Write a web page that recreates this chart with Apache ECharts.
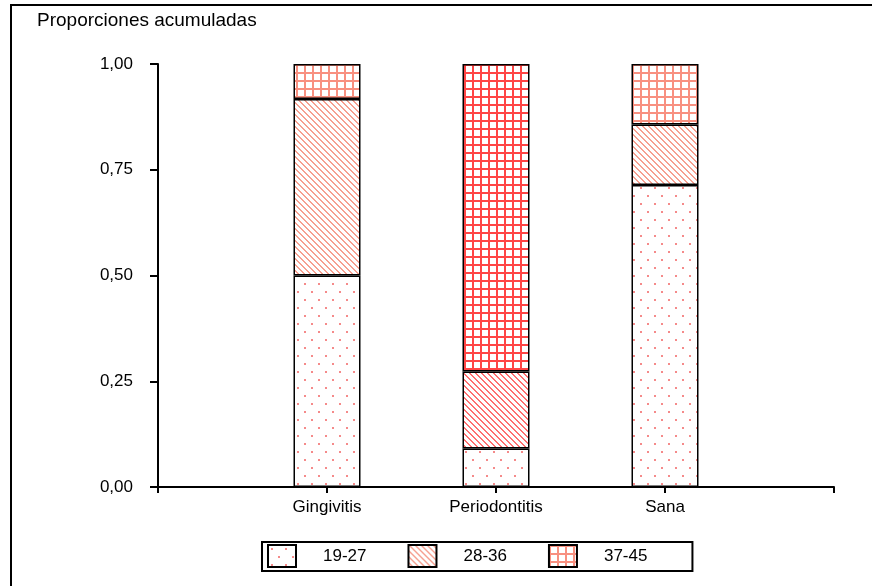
<!DOCTYPE html>
<html>
<head>
<meta charset="utf-8">
<script src="https://cdn.jsdelivr.net/npm/echarts@6/dist/echarts.min.js"></script>
<style>html,body{margin:0;padding:0;background:#fff}#c{width:872px;height:586px}</style>
</head>
<body>
<div id="c"></div>
<script>
const categories = ['', 'Gingivitis', 'Periodontitis', 'Sana', ''];
const seriesNames = ['19-27', '28-36', '37-45'];
const v1927 = ['-', 0.500, 0.091, 0.714, '-'];
const v2836 = ['-', 0.417, 0.182, 0.143, '-'];
const v3745 = ['-', 0.083, 0.727, 0.143, '-'];

function tile(w, h, draw) {
  const c = document.createElement('canvas');
  c.width = w; c.height = h;
  const g = c.getContext('2d');
  g.fillStyle = '#fff'; g.fillRect(0, 0, w, h);
  draw(g);
  return { image: c, repeat: 'repeat' };
}
function dots(col) {
  return tile(14, 16, g => { g.fillStyle = col; g.fillRect(3, 3, 2, 2); g.fillRect(10, 11, 2, 2); });
}
function stripes(col) {
  return tile(6, 6, g => {
    g.fillStyle = col;
    for (let i = 0; i < 6; i++) { g.fillRect(i, i, 2, 1); g.fillRect(i - 6, i, 2, 1); }
  });
}
function grid(col) {
  return tile(8, 8, g => { g.fillStyle = col; g.fillRect(0, 0, 8, 2); g.fillRect(0, 0, 2, 8); });
}
const cDot = dots('#f58a8a');
const cStrL = stripes('#f6a090');
const cStrD = stripes('#ff7070');
const cGrL = grid('#f89080');
const cGrD = grid('#ff4545');

function mk(vals, pats) {
  return vals.map((v, i) => v === '-' ? '-' : { value: v, itemStyle: { color: pats[i] } });
}

const FONT = '"Liberation Sans", Arial, sans-serif';
const border = { borderColor: '#000', borderWidth: 1.5 };
const chart = echarts.init(document.getElementById('c'), null, { renderer: 'canvas' });
chart.setOption({
  animation: false,
  backgroundColor: '#fff',
  textStyle: { fontFamily: FONT },
  graphic: [
    { type: 'rect', shape: { x: 11, y: 5, width: 900, height: 700 }, style: { fill: 'none', stroke: '#000', lineWidth: 2 }, z: 0 },
    { type: 'text', left: 37, top: 11, style: { text: 'Proporciones acumuladas', font: '19px ' + FONT, fill: '#000' } }
  ],
  grid: { left: 158, right: 38, top: 64, bottom: 99 },
  legend: {
    top: 542, left: 262,
    data: seriesNames,
    icon: 'rect',
    itemWidth: 28, itemHeight: 22, itemGap: 41,
    padding: [2, 45, 3, 5],
    borderColor: '#000', borderWidth: 2, borderRadius: 0,
    textStyle: { fontSize: 17, color: '#000', padding: [0, 0, 0, 22] }
  },
  xAxis: {
    type: 'category', data: categories, boundaryGap: false,
    axisLine: { lineStyle: { color: '#000', width: 2 } },
    axisTick: { length: 6, lineStyle: { color: '#000', width: 2 } },
    axisLabel: { color: '#000', fontSize: 17, margin: 12 },
    splitLine: { show: false }
  },
  yAxis: {
    type: 'value', min: 0, max: 1, interval: 0.25,
    axisLine: { show: true, lineStyle: { color: '#000', width: 2 } },
    axisTick: { show: true, inside: false, length: 8, lineStyle: { color: '#000', width: 2 } },
    axisLabel: { color: '#000', fontSize: 17, margin: 25, formatter: v => v.toFixed(2).replace('.', ',') },
    splitLine: { show: false }
  },
  series: [
    { name: seriesNames[0], type: 'bar', stack: 's', barWidth: 67, itemStyle: Object.assign({ color: cDot }, border), data: mk(v1927, [null, cDot, cDot, cDot, null]) },
    { name: seriesNames[1], type: 'bar', stack: 's', barWidth: 67, itemStyle: Object.assign({ color: cStrL }, border), data: mk(v2836, [null, cStrL, cStrD, cStrL, null]) },
    { name: seriesNames[2], type: 'bar', stack: 's', barWidth: 67, itemStyle: Object.assign({ color: cGrL }, border), data: mk(v3745, [null, cGrL, cGrD, cGrL, null]) }
  ]
});
</script>
</body>
</html>
